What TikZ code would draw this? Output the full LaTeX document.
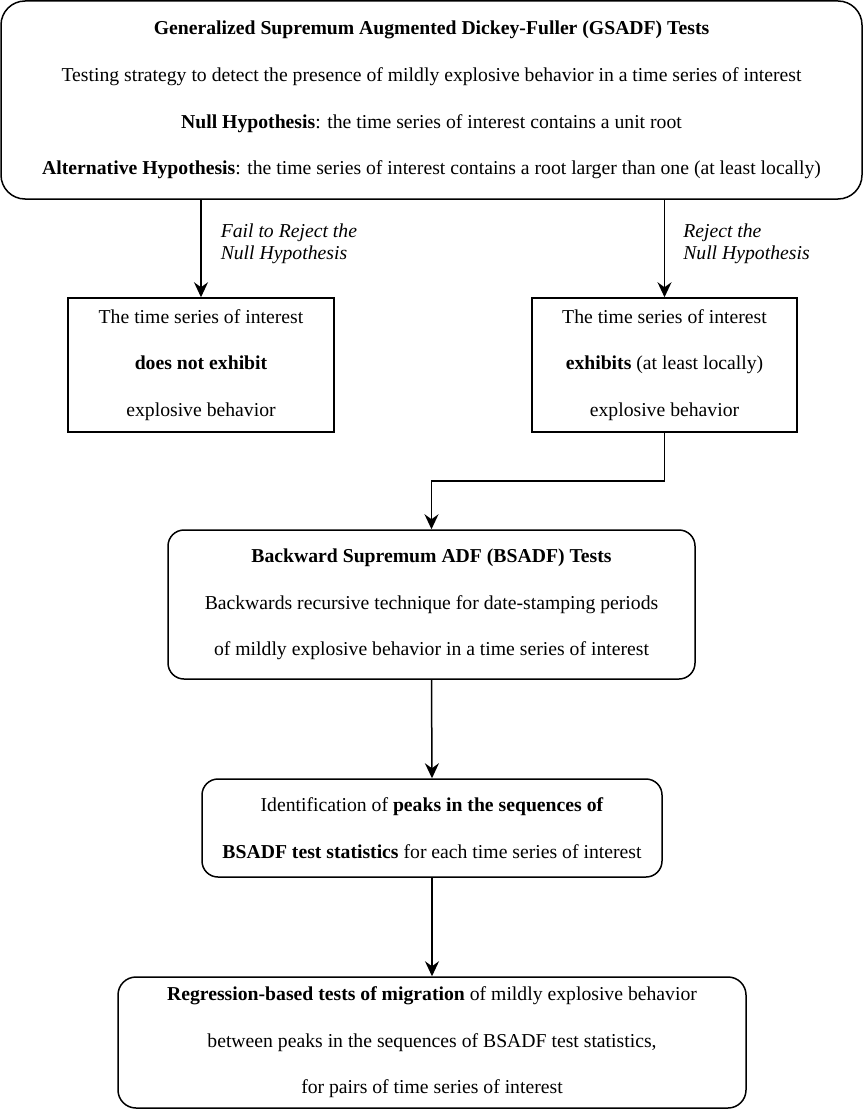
\documentclass[tikz,border=0pt]{standalone}
\usepackage{fontspec}
\setmainfont{Liberation Serif}
\usetikzlibrary{arrows.meta}
\begin{document}
\begin{tikzpicture}[x=1pt,y=-1pt,
  box/.style={draw, line width=1.5pt, inner sep=0pt, align=center, font=\fontsize{19.7}{46.6}\selectfont},
  rbox/.style={box, rounded corners=16pt},
  lbl/.style={align=left, anchor=west, inner sep=0pt, font=\fontsize{19.7}{22.5}\selectfont\itshape},
  arr/.style={line width=1.5pt, -{Stealth[length=15pt,width=14pt,inset=5pt]}}]
\useasboundingbox (0,0) rectangle (863,1110);

\node[box, rounded corners=24pt, minimum width=861, minimum height=198] (top) at (431.5,100)
 {\textbf{Generalized Supremum Augmented Dickey-Fuller (GSADF) Tests}\\
  Testing strategy to detect the presence of mildly explosive behavior in a time series of interest\\
  \textbf{Null Hypothesis}: the time series of interest contains a unit root\\
  \textbf{Alternative Hypothesis}: the time series of interest contains a root larger than one (at least locally)};

\node[box, minimum width=266, minimum height=134] (left) at (201,365)
 {The time series of interest\\ \textbf{does not exhibit}\\ explosive behavior};
\node[box, minimum width=265, minimum height=134] (right) at (664.5,365)
 {The time series of interest\\ \textbf{exhibits} (at least locally)\\ explosive behavior};

\node[rbox, minimum width=527, minimum height=149] (bsadf) at (431.5,604.5)
 {\textbf{Backward Supremum ADF (BSADF) Tests}\\
  Backwards recursive technique for date-stamping periods\\
  of mildly explosive behavior in a time series of interest};

\node[rbox, minimum width=460, minimum height=98] (ident) at (432,828)
 {Identification of \textbf{peaks in the sequences of}\\
  \textbf{BSADF test statistics} for each time series of interest};

\node[rbox, rounded corners=18pt, minimum width=628, minimum height=131] (regr) at (432,1042.5)
 {\textbf{Regression-based tests of migration} of mildly explosive behavior\\
  between peaks in the sequences of BSADF test statistics,\\
  for pairs of time series of interest};

\coordinate (bend) at (0,481);

\draw[arr] (left.north |- top.south) -- (left.north)
  node[lbl, pos=0.45, xshift=19pt] (lblL) {Fail to Reject the\\Null Hypothesis};
\draw[arr] (right.north |- top.south) -- (right.north)
  node[lbl, pos=0.45, xshift=18pt] (lblR) {Reject the\\Null Hypothesis};
\draw[arr] (right.south) -- (right.south |- bend) -| (bsadf.north);
\draw[arr] (bsadf.south) -- (ident.north);
\draw[arr] (ident.south) -- (regr.north);
\end{tikzpicture}
\end{document}
